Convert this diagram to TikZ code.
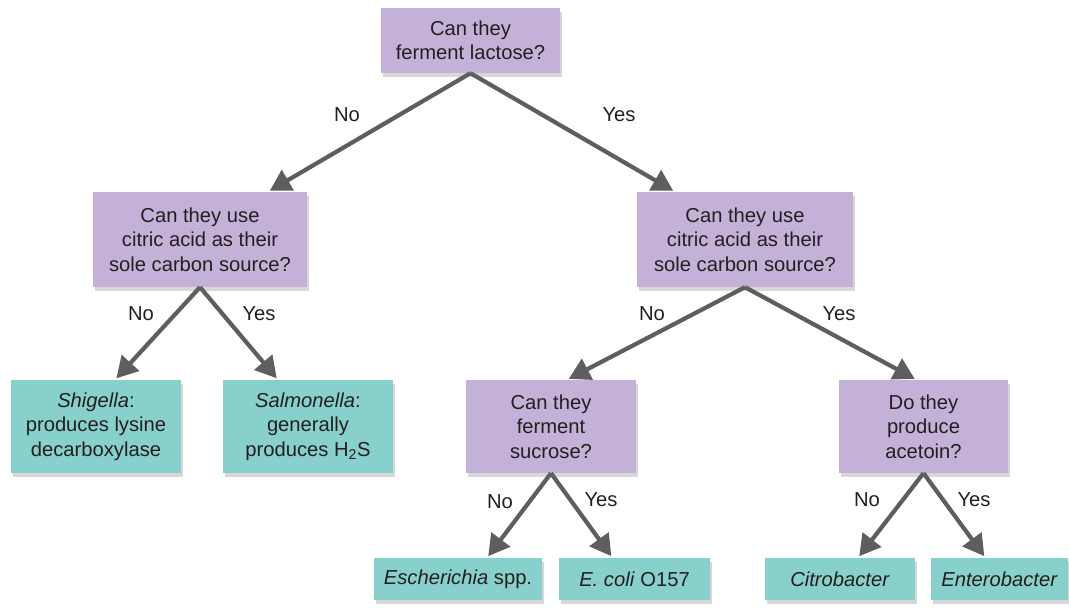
\documentclass[tikz,border=0pt]{standalone}
\usepackage{fontspec}
\setmainfont{Liberation Sans}
\usetikzlibrary{arrows.meta,shadows}
\definecolor{qpurple}{HTML}{C4B1D7}
\definecolor{ateal}{HTML}{88D0CB}
\definecolor{txt}{HTML}{231F20}
\definecolor{arr}{HTML}{5E5E5F}
\begin{document}
\begin{tikzpicture}[x=1pt,y=-1pt,
  every node/.style={font=\fontsize{20.2}{24.5}\selectfont, text=txt},
  box/.style={inner sep=0pt, align=center, drop shadow={shadow xshift=2pt, shadow yshift=-4pt, fill=black!35, opacity=0.45}},
  qbox/.style={box, fill=qpurple},
  abox/.style={box, fill=ateal},
  conn/.style={draw=arr, line width=4.2pt, -{Triangle[length=21pt,width=23pt]}, shorten >=2pt},
  lbl/.style={inner sep=0pt}
]
\useasboundingbox (0,0) rectangle (1069,608);

\node[qbox, minimum width=179pt, minimum height=65pt] (top) at (470.5,40.5) {Can they\\ferment lactose?};
\node[qbox, minimum width=214pt, minimum height=95pt] (lq) at (200,239.5) {Can they use\\citric acid as their\\sole carbon source?};
\node[qbox, minimum width=216pt, minimum height=95pt] (rq) at (745,239.5) {Can they use\\citric acid as their\\sole carbon source?};
\node[abox, minimum width=170pt, minimum height=93pt] (shi) at (96,426.5) {\textit{Shigella}:\\produces lysine\\decarboxylase};
\node[abox, minimum width=170pt, minimum height=93pt] (sal) at (308,426.5) {\textit{Salmonella}:\\generally\\produces H\textsubscript{2}S};
\node[qbox, minimum width=170pt, minimum height=93pt] (suc) at (551,426.5) {Can they\\ferment\\sucrose?};
\node[qbox, minimum width=169pt, minimum height=93pt] (ace) at (923.5,426.5) {Do they\\produce\\acetoin?};
\node[abox, minimum width=168pt, minimum height=42pt] (esc) at (458,579) {\textit{Escherichia} spp.};
\node[abox, minimum width=151pt, minimum height=42pt] (eco) at (634.5,579) {\textit{E. coli} O157};
\node[abox, minimum width=150pt, minimum height=42pt] (cit) at (840,579) {\textit{Citrobacter}};
\node[abox, minimum width=137pt, minimum height=42pt] (ent) at (999.5,579) {\textit{Enterobacter}};

\draw[conn] (top.south) -- ([xshift=68pt]lq.north);
\draw[conn] (top.south) -- ([xshift=-70pt]rq.north);
\draw[conn] (lq.south) -- ([xshift=19pt]shi.north);
\draw[conn] (lq.south) -- ([xshift=-30pt]sal.north);
\draw[conn] (rq.south) -- ([xshift=16pt]suc.north);
\draw[conn] (rq.south) -- ([xshift=-7pt]ace.north);
\draw[conn] (suc.south) -- ([xshift=29pt]esc.north);
\draw[conn] (suc.south) -- ([xshift=-22pt]eco.north);
\draw[conn] (ace.south) -- ([xshift=18pt]cit.north);
\draw[conn] (ace.south) -- ([xshift=-14pt]ent.north);

\node[lbl] (l1) at (347,115) {No};
\node[lbl] (l2) at (619,115) {Yes};
\node[lbl] (l3) at (141,314) {No};
\node[lbl] (l4) at (259,314) {Yes};
\node[lbl] (l5) at (652,314) {No};
\node[lbl] (l6) at (839,314) {Yes};
\node[lbl] (l7) at (500,502) {No};
\node[lbl] (l8) at (601,500) {Yes};
\node[lbl] (l9) at (867,500) {No};
\node[lbl] (l10) at (974,500) {Yes};
\end{tikzpicture}
\end{document}
